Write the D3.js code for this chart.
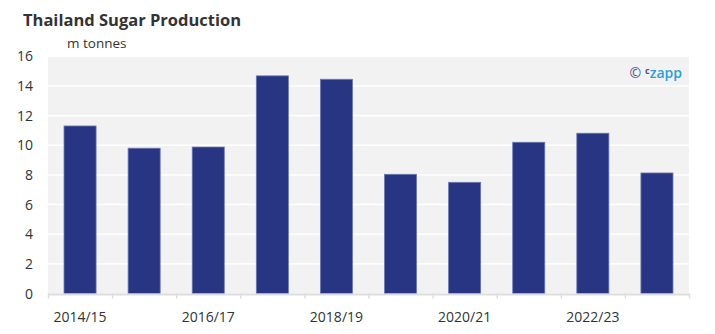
<!DOCTYPE html>
<html><head><meta charset="utf-8">
<script src="https://cdn.jsdelivr.net/npm/d3@7"></script>
<style>body{margin:0;background:#fff;} svg{display:block;font-family:"Open Sans",sans-serif;}</style>
</head><body>
<script>
const categories = ["2014/15","2015/16","2016/17","2017/18","2018/19","2019/20","2020/21","2021/22","2022/23","2023/24"];
const production = [11.3, 9.8, 9.88, 14.68, 14.45, 8.04, 7.5, 10.2, 10.81, 8.13];
const yTicks = [0,2,4,6,8,10,12,14,16];
const xLabels = ["2014/15","2016/17","2018/19","2020/21","2022/23"];

const W = 715, H = 334;
const m = {left:48, right:26, top:56.3, bottom:40.5};
const svg = d3.select("body").append("svg").attr("width",W).attr("height",H);

const x = d3.scaleBand().domain(categories).range([m.left, W-m.right]).paddingInner(0.5).paddingOuter(0.25);
const y = d3.scaleLinear().domain([0,16]).range([H-m.bottom, m.top]);

svg.append("rect").attr("x",m.left).attr("y",m.top).attr("width",W-m.right-m.left).attr("height",H-m.bottom-m.top).attr("fill","#f2f2f2");

svg.append("g").selectAll("line").data(yTicks.filter(d=>d>0)).join("line")
  .attr("x1",m.left).attr("x2",W-m.right).attr("y1",d=>y(d)).attr("y2",d=>y(d))
  .attr("stroke","#fff").attr("stroke-width",1.5);

svg.append("g").selectAll("text").data(yTicks).join("text")
  .attr("x",33).attr("y",d=>y(d)+5).attr("text-anchor","end")
  .attr("font-size",14).attr("fill","#333").text(d=>d);

svg.append("g").selectAll("rect").data(categories).join("rect")
  .attr("x",d=>x(d)).attr("width",x.bandwidth())
  .attr("y",(d,i)=>y(production[i])).attr("height",(d,i)=>y(0)-y(production[i]))
  .attr("fill","#283583").attr("stroke","#6b77b0").attr("stroke-width",0.8);

// x axis
const band = (W-m.right-m.left)/categories.length;
svg.append("line").attr("x1",m.left).attr("x2",W-m.right).attr("y1",y(0)+1).attr("y2",y(0)+1).attr("stroke","#ddd").attr("stroke-width",2);
svg.append("g").selectAll("line").data(d3.range(categories.length+1)).join("line")
  .attr("x1",i=>m.left+i*band+0.5).attr("x2",i=>m.left+i*band+0.5)
  .attr("y1",y(0)).attr("y2",y(0)+5).attr("stroke","#ddd").attr("stroke-width",1.5);
svg.append("g").selectAll("text").data(xLabels).join("text")
  .attr("x",d=>x(d)+x.bandwidth()/2).attr("y",322).attr("text-anchor","middle")
  .attr("font-size",14).attr("fill","#333").text(d=>d);

svg.append("text").attr("x",23).attr("y",26).attr("font-size",16.5).attr("font-weight","bold").attr("fill","#333").text("Thailand Sugar Production");
svg.append("text").attr("x",67).attr("y",48).attr("font-size",13.5).attr("fill","#333").text("m tonnes");

const wm = svg.append("text").attr("x",682).attr("y",78).attr("text-anchor","end").attr("font-size",14);
wm.append("tspan").attr("fill","#4a4f8f").text("©");
wm.append("tspan").attr("fill","#4a4f8f").attr("font-size",9).attr("font-weight","bold").attr("dx",4).attr("dy",-4).text("c");
wm.append("tspan").attr("fill","#2a9fd9").attr("font-weight",600).attr("dy",4).text("zapp");
</script>
</body></html>
